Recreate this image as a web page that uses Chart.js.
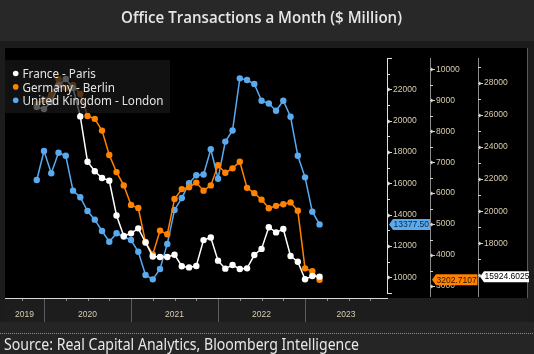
<!DOCTYPE html>
<html><head><meta charset="utf-8">
<script src="https://cdn.jsdelivr.net/npm/chart.js@4.4.0/dist/chart.umd.min.js"></script>
<style>html,body{margin:0;padding:0;background:#1c1c1c;overflow:hidden}#wrap{width:534px;height:354px;position:relative}canvas{display:block}</style>
</head><body><div id="wrap"><canvas id="c" width="534" height="354"></canvas></div>
<script>
// ---------- DATA ----------
const months = ["2019-12",
  "2020-01","2020-02","2020-03","2020-04","2020-05","2020-06","2020-07","2020-08","2020-09","2020-10","2020-11","2020-12",
  "2021-01","2021-02","2021-03","2021-04","2021-05","2021-06","2021-07","2021-08","2021-09","2021-10","2021-11","2021-12",
  "2022-01","2022-02","2022-03","2022-04","2022-05","2022-06","2022-07","2022-08","2022-09","2022-10","2022-11","2022-12",
  "2023-01","2023-02","2023-03"];
const franceParis = [26490,26360,26800,27850,28230,27670,25900,23080,22490,22070,21900,19730,18450,18620,18930,18050,17180,17150,17150,17290,
  16570,16500,16590,18200,18360,16920,16420,16650,16400,16440,17270,17650,19000,18680,18890,17210,16850,15760,15960,15924.6025];
const germanyBerlin = [8880,9010,9170,9690,9400,9490,9200,8490,8400,8020,7230,6680,6250,5620,5520,4420,4020,4790,4670,5810,
  6130,6190,6340,6080,6250,6900,6660,6800,7015,6170,6000,5790,5510,5590,5640,5700,5430,3570,3475,3202.7107];
const ukLondon = [16210,18060,16640,17950,17760,15530,15110,14230,13680,12955,12270,12810,12590,12380,11630,10150,9870,10530,12130,14300,
  15060,16000,16510,16560,18170,16290,18660,19370,22700,22590,22340,21270,21090,20630,21270,20245,17755,16380,14190,13377.50];
const seriesNames = ["France - Paris","Germany - Berlin","United Kingdom - London"];
const lastValueDecimals = [4,4,2];
const years = ["2019","2020","2021","2022","2023"];
const ukTicks = [10000,12000,14000,16000,18000,20000,22000];
const deTicks = [3000,4000,5000,6000,7000,8000,9000,10000];
const frTicks = [16000,18000,20000,22000,24000,26000,28000];
const titleText = "Office Transactions a Month ($ Million)";
const sourceText = "Source: Real Capital Analytics, Bloomberg Intelligence";

// ---------- STYLE / LAYOUT ----------
const COL = {fr:'#ffffff', de:'#ff8200', uk:'#5aaaf0'};
const X_MIN = -5.38, X_MAX = 47.3;
const TICK_FONT = {family:'"Liberation Sans", Arial, sans-serif', size:8.5};
const TICK_COLOR = '#d8ccb0';

function monthValue(m){ const p=m.split('-').map(Number); return (p[0]-2020)*12+(p[1]-1); }
function pts(arr){ return months.map((m,i)=>({x:monthValue(m), y:arr[i]})); }
function yearCenters(){
  return years.map(y=>{ const s=(Number(y)-2020)*12, e=s+12; return (Math.max(s,X_MIN)+Math.min(e,X_MAX))/2; });
}
function fitText(ctx, text, x, y, targetW, font, align){
  ctx.save(); ctx.font = font; const w = ctx.measureText(text).width; const s = targetW/w;
  ctx.translate(x,y); ctx.scale(s,1); ctx.textAlign=align; ctx.textBaseline='alphabetic'; ctx.fillText(text,0,0); ctx.restore();
}

const decor = {
  id:'decor',
  beforeDraw(chart){
    const ctx=chart.ctx, ca=chart.chartArea, W=chart.width, H=chart.height;
    ctx.save();
    ctx.fillStyle='#1c1c1c'; ctx.fillRect(0,0,W,H);
    ctx.fillStyle='#282828'; ctx.fillRect(0,0,W,41);
    ctx.fillStyle='#e6e6e6';
    fitText(ctx,titleText,261.5,23.3,281,'600 16px "Open Sans"','center');
    // black plot & axes panel
    ctx.fillStyle='#000'; ctx.fillRect(ca.left,48,527-ca.left,ca.bottom-48);
    ctx.fillStyle='#5a5a5a'; ctx.fillRect(527,48,1,ca.bottom-48);
    // x label band
    ctx.fillStyle='#1d1d1d'; ctx.fillRect(ca.left,ca.bottom,527-ca.left,24);
    ctx.fillStyle='#252525'; ctx.fillRect(0,ca.bottom+24,W,H-ca.bottom-24);
    // dotted line
    ctx.fillStyle='#8a8a8a';
    for(let x=0;x<W;x+=2) ctx.fillRect(x,333,1,1);
    ctx.fillStyle='#e8e8e8';
    fitText(ctx,sourceText,4,350,355,'16px "Noto Sans"','left');
    // year separators and quarter ticks
    const xs=chart.scales.x;
    for(let v=Math.ceil(X_MIN/3)*3; v<=X_MAX; v+=3){
      const px=Math.round(xs.getPixelForValue(v))+0.5;
      if(v%12===0){ ctx.fillStyle='#5c5c5c'; ctx.fillRect(px-0.5,ca.bottom,1,24); }
      else { ctx.fillStyle='#8a8a8a'; ctx.fillRect(px-0.5,ca.bottom,1,3); }
    }
    ctx.restore();
  },
  afterDatasetsDraw(chart){
    const ctx=chart.ctx;
    ctx.save();
    ctx.fillStyle='rgba(24,24,24,0.72)'; ctx.fillRect(5,60,165,53);
    const cols=[COL.fr,COL.de,COL.uk];
    seriesNames.forEach((n,i)=>{
      const by=78.3+i*13.4;
      ctx.fillStyle=cols[i]; ctx.beginPath(); ctx.arc(15.7,by-4.8,2.8,0,Math.PI*2); ctx.fill();
      ctx.fillStyle='#e4e4e4';
      const f='13px "Noto Sans"';
      ctx.font=f;
      const ref=ctx.measureText(seriesNames[2]).width, s=141/ref;
      ctx.save(); ctx.translate(22.5,by); ctx.scale(s,1); ctx.textAlign='left'; ctx.textBaseline='alphabetic'; ctx.fillText(n,0,0); ctx.restore();
    });
    ctx.restore();
  },
  afterDraw(chart){
    const ctx=chart.ctx, ca=chart.chartArea;
    const sUK=chart.scales.yUK, sDE=chart.scales.yDE, sFR=chart.scales.yFR;
    ctx.save();
    // plot bottom line
    ctx.fillStyle='#d8d8d8'; ctx.fillRect(ca.left,ca.bottom,ca.right-ca.left+1,1);
    function ticks(s, majors, minors, color){
      const L=Math.round(s.left);
      ctx.fillStyle=color;
      majors.forEach(v=>{ const y=Math.round(s.getPixelForValue(v)); ctx.fillRect(L,y,5,1);
        ctx.beginPath(); ctx.moveTo(L+1,y-1.5); ctx.lineTo(L+4,y+0.5); ctx.lineTo(L+1,y+2.5); ctx.fill(); });
      minors.forEach(v=>{ const y=Math.round(s.getPixelForValue(v)); ctx.fillRect(L,y,3,1); });
    }
    // UK axis
    let L=Math.round(sUK.left), t=Math.round(sUK.getPixelForValue(24000)), b=Math.round(sUK.getPixelForValue(9000));
    ctx.fillStyle='#e0e0e0'; ctx.fillRect(L,t,1,b-t+1); ctx.fillRect(L,t,5,1); ctx.fillRect(L,b,5,1);
    ticks(sUK, ukTicks, [11000,13000,15000,17000,19000,21000,23000], '#dddddd');
    // DE axis
    L=Math.round(sDE.left); ctx.fillStyle='#8c8c8c'; ctx.fillRect(L,58,1,ca.bottom-59);
    ticks(sDE, deTicks, [3500,4500,5500,6500,7500,8500,9500], '#d0d0d0');
    // FR axis
    L=Math.round(sFR.left); ctx.fillStyle='#8c8c8c'; ctx.fillRect(L,58,1,ca.bottom-59);
    ticks(sFR, frTicks, [17000,19000,21000,23000,25000,27000,29000], '#d0d0d0');
    // last value flags
    function flag(s, val, dec, bg, fg, w){
      const x=Math.round(s.left)+2, y=s.getPixelForValue(val), h=5.5;
      ctx.fillStyle=bg; ctx.beginPath(); ctx.moveTo(x,y); ctx.lineTo(x+4,y-h); ctx.lineTo(x+w,y-h); ctx.lineTo(x+w,y+h); ctx.lineTo(x+4,y+h); ctx.closePath(); ctx.fill();
      ctx.fillStyle=fg; ctx.font='8.5px "Liberation Sans", Arial, sans-serif'; ctx.textAlign='left'; ctx.textBaseline='middle';
      ctx.fillText(val.toFixed(dec), x+4.5, y+0.5);
    }
    flag(sUK, ukLondon[ukLondon.length-1], lastValueDecimals[2], COL.uk, '#10263c', 41);
    flag(sDE, germanyBerlin[germanyBerlin.length-1], lastValueDecimals[1], COL.de, '#2a1500', 45.5);
    flag(sFR, franceParis[franceParis.length-1], lastValueDecimals[0], '#ffffff', '#000000', 49);
    ctx.restore();
  }
};

function yAxis(min,max,tickVals,width){
  return {
    type:'linear', position:'right', min:min, max:max,
    grid:{display:false, drawOnChartArea:false, drawTicks:false},
    border:{display:false},
    ticks:{padding:6, color:TICK_COLOR, font:TICK_FONT, autoSkip:false, callback:(v)=>String(v)},
    afterBuildTicks(s){ s.ticks = tickVals.map(v=>({value:v})); },
    afterFit(s){ s.width = width; }
  };
}
function ds(label, arr, axis, color){
  return {label, data:pts(arr), yAxisID:axis, borderColor:color, backgroundColor:color,
    pointBackgroundColor:color, pointBorderWidth:0, pointRadius:3.2, borderWidth:1.5, tension:0};
}

new Chart(document.getElementById('c'), {
  type:'line',
  data:{datasets:[
    ds(seriesNames[0], franceParis, 'yFR', COL.fr),
    ds(seriesNames[1], germanyBerlin, 'yDE', COL.de),
    ds(seriesNames[2], ukLondon, 'yUK', COL.uk)
  ]},
  options:{
    responsive:false, animation:false, devicePixelRatio:1,
    layout:{padding:{left:5,right:6,top:50,bottom:0}},
    plugins:{legend:{display:false}, tooltip:{enabled:false}, title:{display:false}},
    scales:{
      x:{type:'linear', position:'bottom', min:X_MIN, max:X_MAX,
        grid:{display:false, drawTicks:false}, border:{display:false},
        ticks:{autoSkip:false, maxRotation:0, padding:12, color:TICK_COLOR, font:TICK_FONT,
          callback:(v,i)=>years[i]},
        afterBuildTicks(s){ s.ticks = yearCenters().map(v=>({value:v})); },
        afterFit(s){ s.height = 56; }
      },
      yUK: yAxis(8679,24508,ukTicks,43),
      yDE: yAxis(2613,10623,deTicks,48),
      yFR: yAxis(14594,30036,frTicks,50)
    }
  },
  plugins:[decor]
});
</script></body></html>
